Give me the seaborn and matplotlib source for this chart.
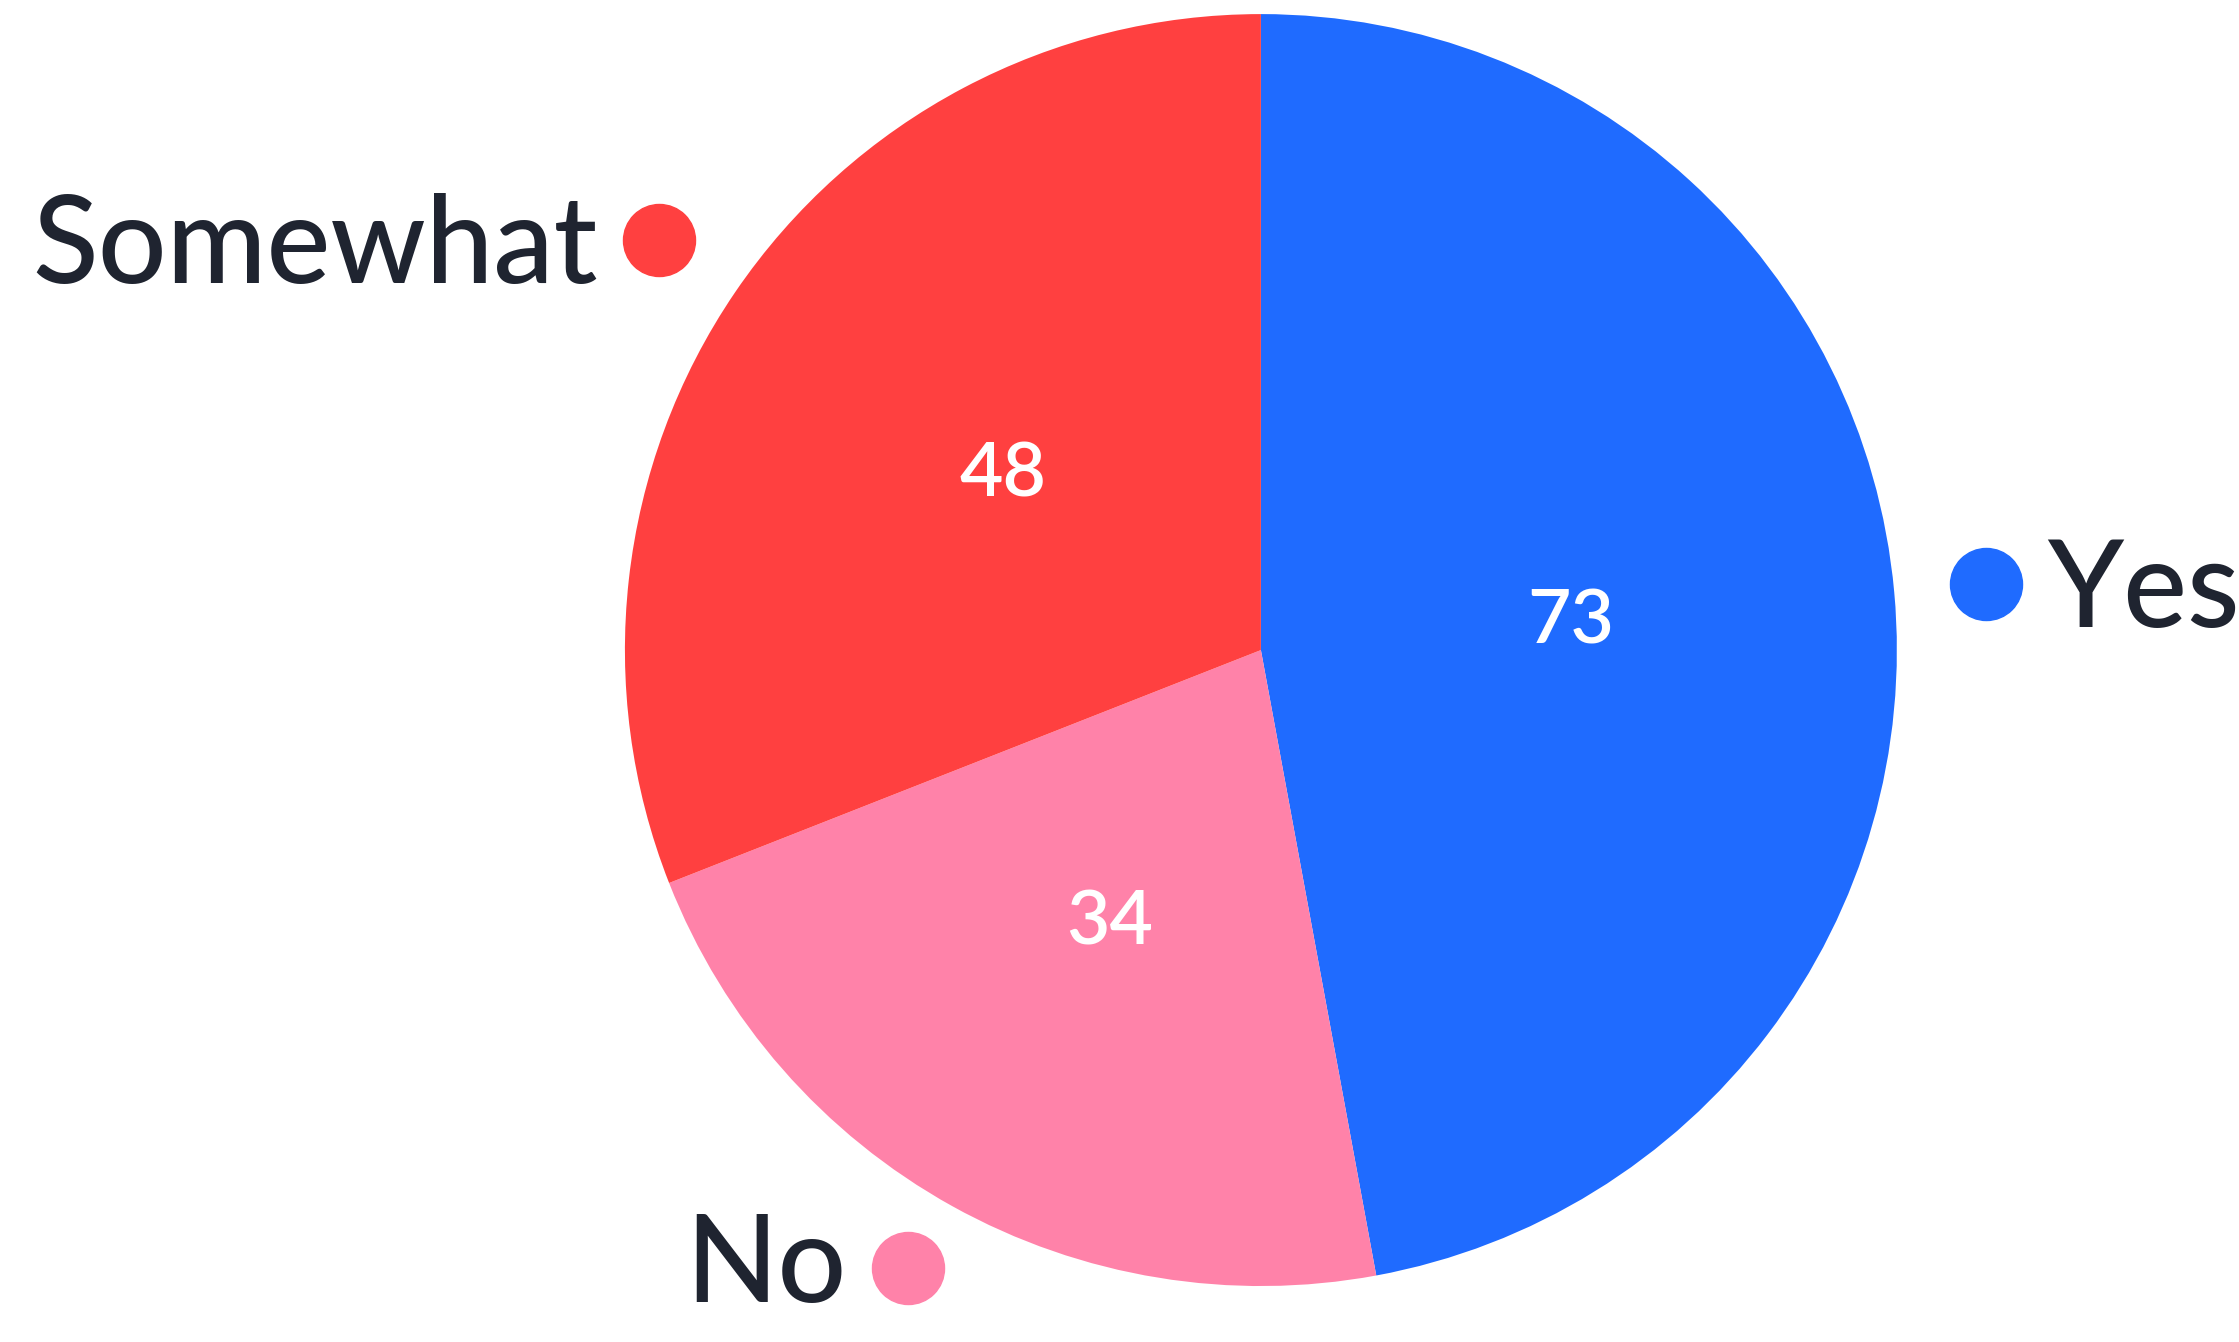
import numpy as np
import seaborn as sns
import matplotlib.pyplot as plt

# data
labels = ["Yes", "No", "Somewhat"]
values = [73, 34, 48]
colors = ["#1f6bff", "#ff82a9", "#ff4040"]

sns.set_theme(style="white")
plt.rcParams['font.family'] = ['Lato', 'DejaVu Sans']

fig = plt.figure(figsize=(22.39, 13.42), dpi=100)
ax = fig.add_axes([0.2791, 0.0417, 0.5681, 0.9478])

wedges, _, autotexts = ax.pie(
    values, colors=colors, startangle=90, counterclock=False,
    autopct=lambda p: f"{p * sum(values) / 100:.0f}", pctdistance=0.49,
    wedgeprops=dict(linewidth=0),
    textprops=dict(color="white", fontsize=54, fontweight="semibold"),
)
ax.set_xlim(-1, 1)
ax.set_ylim(-1, 1)
ax.set_aspect("equal")

# outside labels with coloured dots
for w, lab, c in zip(wedges, labels, colors):
    ang = np.deg2rad((w.theta1 + w.theta2) / 2)
    x, y = 1.145 * np.cos(ang), 1.145 * np.sin(ang)
    dy = -6
    if y < -1:  # keep the bottom label inside the figure
        y += 0.03
        dy = 0
    ax.scatter([x], [y], s=2690, color=c, clip_on=False, zorder=3)
    right = x > 0
    ax.annotate(lab, (x, y), xytext=(44 if right else -44, dy),
                textcoords="offset points", va="center",
                ha="left" if right else "right", fontweight="medium",
                fontsize=87, color="#1f2430", annotation_clip=False)

ax.axis("off")
fig.savefig("out.png", dpi=100)
